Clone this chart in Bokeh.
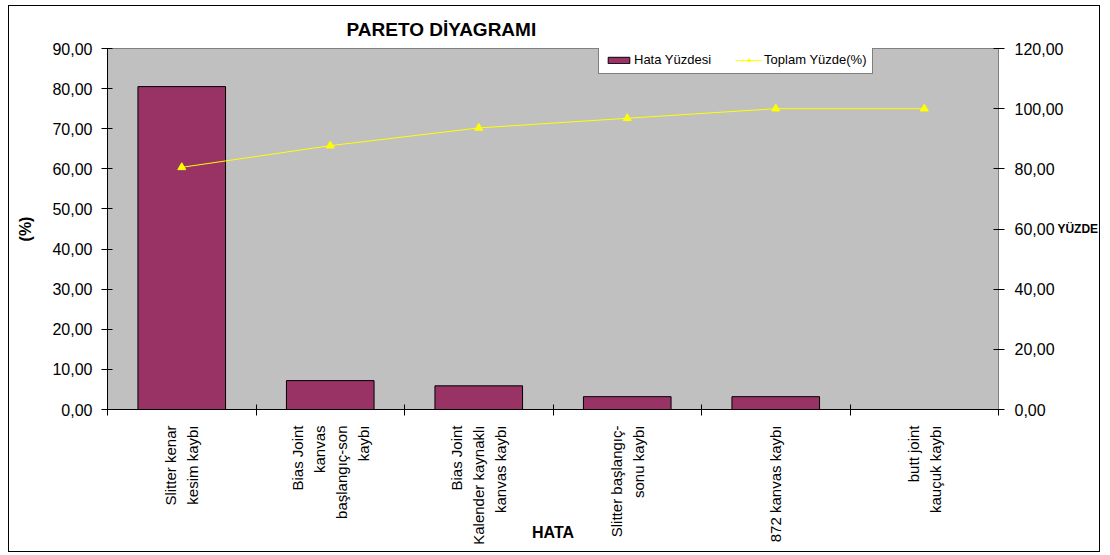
from math import pi
from bokeh.plotting import figure
from bokeh.models import (Range1d, LinearAxis, FixedTicker, CustomJSTickFormatter,
                          Legend, LegendItem)
from bokeh.embed import file_html
from bokeh.resources import INLINE

# ---- data ----
categories = ["Slitter kenar kesim kaybı",
              "Bias Joint kanvas başlangıç-son kaybı",
              "Bias Joint Kalender kaynaklı kanvas kaybı",
              "Slitter başlangıç-sonu kaybı",
              "872 kanvas kaybı",
              "butt joint kauçuk kaybı"]
tick_labels = ["Slitter kenar\nkesim kaybı",
               "Bias Joint\nkanvas\nbaşlangıç-son\nkaybı",
               "Bias Joint\nKalender kaynaklı\nkanvas kaybı",
               "Slitter başlangıç-\nsonu kaybı",
               "872 kanvas kaybı",
               "butt joint\nkauçuk kaybı"]
hata_yuzdesi = [80.5, 7.2, 5.9, 3.2, 3.2, 0.0]
toplam_yuzde = [80.5, 87.7, 93.6, 96.8, 100.0, 100.0]
left_ticks = [0, 10, 20, 30, 40, 50, 60, 70, 80, 90]
right_ticks = [0, 20, 40, 60, 80, 100, 120]

n = len(categories)
xc = [i + 0.5 for i in range(n)]          # category centres on the x scale

FONT = "Liberation Sans"
fmt = CustomJSTickFormatter(code="return tick.toFixed(2).replace('.', ',')")

p = figure(width=1092, height=547, x_range=Range1d(0, n),
           y_range=Range1d(0, 90), output_backend="svg", toolbar_location=None,
           min_border_left=98, min_border_right=102,
           min_border_top=42, min_border_bottom=144,
           background_fill_color="#C0C0C0", border_fill_color="white",
           outline_line_color="#808080",
           margin=(5, 0, 0, 8),
           styles={"border": "1px solid #000000"})
p.grid.visible = False
p.extra_y_ranges = {"right": Range1d(0, 120)}

# title
p.title.text = "PARETO DİYAGRAMI"
p.title.text_font = FONT
p.title.text_font_size = "19px"
p.title.text_font_style = "bold"
p.title.text_color = "black"
p.title.align = "left"
p.title.offset = 239
p.title.standoff = 17

# left axis
ya = p.yaxis[0]
ya.ticker = FixedTicker(ticks=left_ticks)
ya.formatter = fmt
ya.major_tick_in = 5
ya.major_tick_out = 6
ya.minor_tick_line_color = None
ya.axis_line_color = "black"
ya.major_label_text_font = FONT
ya.major_label_text_font_size = "16px"
ya.major_label_text_color = "black"
ya.major_label_standoff = 9
ya.axis_label = "(%)"
ya.axis_label_text_font = FONT
ya.axis_label_text_font_size = "16px"
ya.axis_label_text_font_style = "bold"
ya.axis_label_text_color = "black"
ya.axis_label_standoff = 15

# right axis
ra = LinearAxis(y_range_name="right", ticker=FixedTicker(ticks=right_ticks), formatter=fmt)
ra.major_tick_in = 5
ra.major_tick_out = 6
ra.minor_tick_line_color = None
ra.axis_line_color = "#808080"
ra.major_label_text_font = FONT
ra.major_label_text_font_size = "16px"
ra.major_label_text_color = "black"
ra.major_label_standoff = 10
ra.axis_label = "YÜZDE"
ra.axis_label_orientation = "horizontal"
ra.axis_label_text_font = FONT
ra.axis_label_text_font_size = "12px"
ra.axis_label_text_font_style = "bold"
ra.axis_label_text_color = "black"
ra.axis_label_standoff = -9
p.add_layout(ra, "right")

# bottom axis 1: tick marks at category boundaries
xa = p.xaxis[0]
xa.ticker = FixedTicker(ticks=list(range(n + 1)))
xa.formatter = CustomJSTickFormatter(code="return ''")
xa.major_tick_in = 5
xa.major_tick_out = 6
xa.minor_tick_line_color = None
xa.axis_line_color = "black"
xa.major_label_text_font_size = "1px"
xa.major_label_standoff = 0

# bottom axis 2: category names (rotated, wrapped) + axis title
ca = LinearAxis(ticker=FixedTicker(ticks=xc),
                formatter=CustomJSTickFormatter(args=dict(labels=tick_labels),
                                                code="return labels[Math.floor(tick)]"))
ca.axis_line_color = None
ca.major_tick_line_color = None
ca.minor_tick_line_color = None
ca.major_label_orientation = pi / 2
ca.major_label_standoff = 4
ca.major_label_text_font = FONT
ca.major_label_text_font_size = "15px"
ca.major_label_text_color = "black"
ca.major_label_text_line_height = 1.3
ca.axis_label = "HATA"
ca.axis_label_text_font = FONT
ca.axis_label_text_font_size = "16px"
ca.axis_label_text_font_style = "bold"
ca.axis_label_text_color = "black"
ca.axis_label_standoff = -24
p.add_layout(ca, "below")

# bars and cumulative line
bars = p.vbar(x=xc, top=hata_yuzdesi, width=0.59, fill_color="#993366",
              line_color="black", line_width=1)
line = p.line(x=xc, y=toplam_yuzde, y_range_name="right", line_color="#FFFF00", line_width=1)
marks = p.scatter(x=xc, y=toplam_yuzde, y_range_name="right", marker="triangle",
                  size=8, fill_color="#FFFF00", line_color="#FFFF00")

# legend (top of the plot area, right of centre)
legend = Legend(items=[LegendItem(label="Hata Yüzdesi", renderers=[bars]),
                       LegendItem(label="Toplam Yüzde(%)", renderers=[line, marks])],
                orientation="horizontal", location=(491, 335),
                label_text_font=FONT, label_text_font_size="13px", label_text_color="black",
                glyph_width=27, glyph_height=8, label_height=12, label_standoff=2,
                spacing=24, padding=6, margin=0,
                border_line_color="black", border_line_width=1,
                background_fill_color="white", background_fill_alpha=1)
p.add_layout(legend)

open("out.html", "w").write(file_html(p, INLINE))
